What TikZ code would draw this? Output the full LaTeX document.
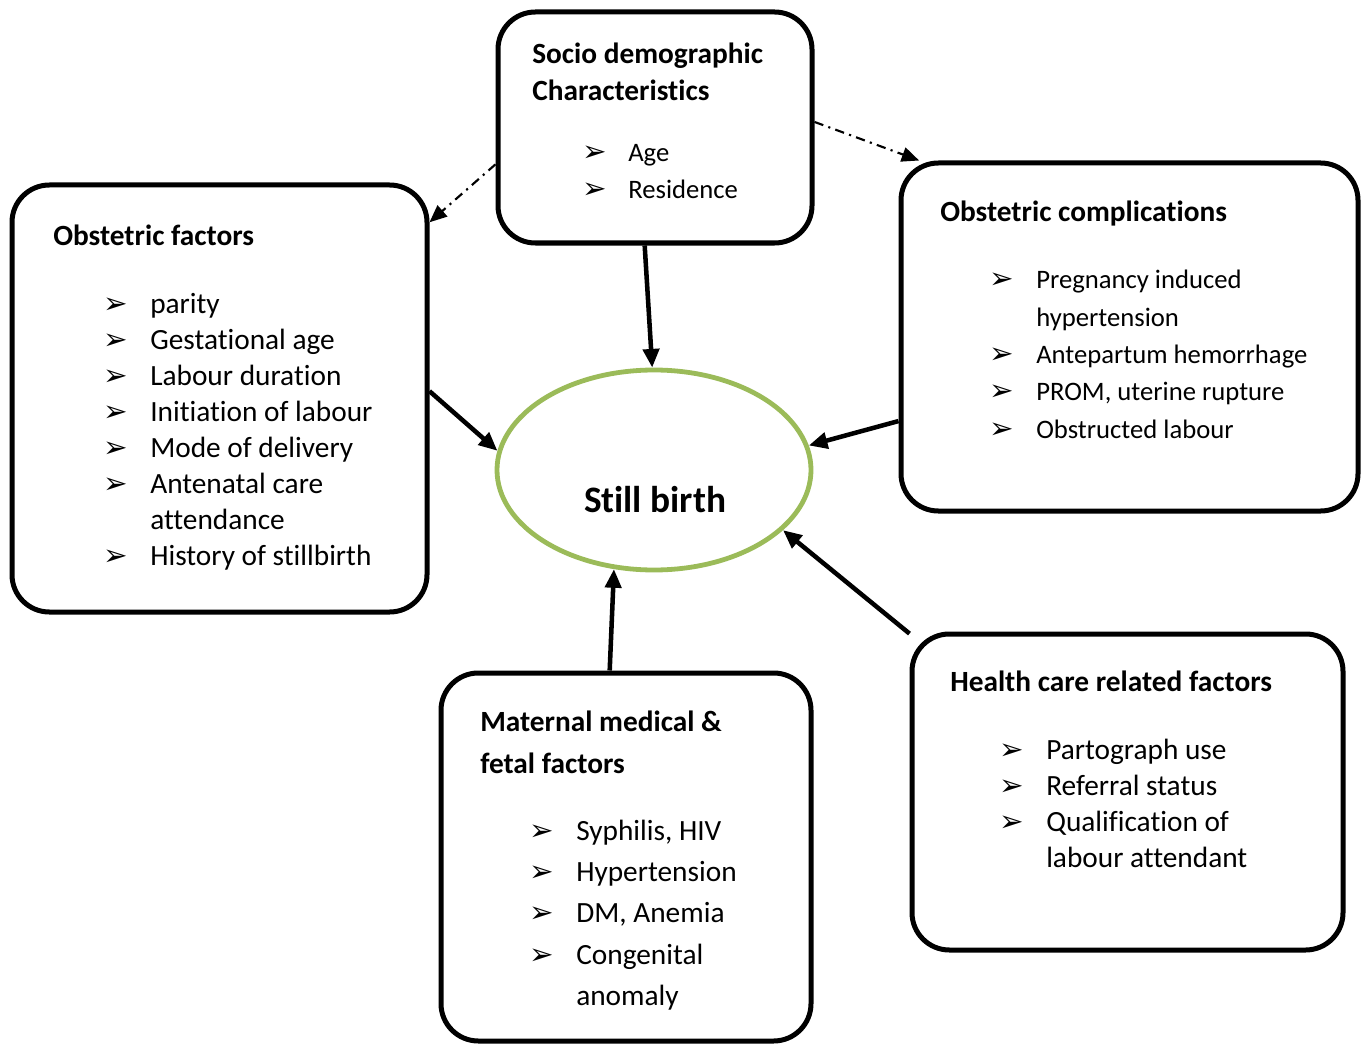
\documentclass[tikz,border=0pt]{standalone}
\usepackage{fontspec}
\setmainfont{Carlito}[RawFeature={-liga,-clig,-calt,-ccmp,-rlig,-dlig}]
\newfontfamily\arrowfont{DejaVu Sans}
\usetikzlibrary{arrows.meta}
\usetikzlibrary{shapes.geometric}
\definecolor{birthgreen}{RGB}{155,187,89}
\newcommand{\pix}{*0.75pt}
\newcommand{\titlesize}{\fontsize{22}{26}\selectfont\bfseries}
\newcommand{\itemsize}{\fontsize{22}{26}\selectfont}
\newcommand{\smallsize}{\fontsize{20}{24}\selectfont}
\newcommand{\bul}{{\arrowfont\fontsize{22}{22}\selectfont ➢}}

\begin{document}
\begin{tikzpicture}[x=0.75pt,y=-0.75pt]
\tikzstyle{factorbox}=[draw, line width=3.75pt, rounded corners=28pt, inner sep=0pt]
\tikzstyle{outcome}=[ellipse, draw=birthgreen, line width=3.6pt, inner sep=0pt,
  minimum width=314\pix, minimum height=200\pix]
\tikzstyle{title}=[anchor=base west, inner sep=0pt, font=\titlesize]
\tikzstyle{txt}=[anchor=base west, inner sep=0pt]
\tikzstyle{link}=[line width=3.4pt, -{Triangle[length=14pt,width=12pt]}]
\tikzstyle{weak}=[line width=1.6pt, dash pattern=on 7pt off 4pt on 1.6pt off 4pt,
  -{Triangle[length=13pt,width=11pt]}]
\useasboundingbox (0,0) rectangle (1364,1045);

% boxes
\node[factorbox, minimum width=314\pix, minimum height=231\pix] (soc) at (655,127.5) {};
\node[factorbox, minimum width=415\pix, minimum height=427\pix] (obst) at (219.5,398.5) {};
\node[factorbox, minimum width=457\pix, minimum height=348\pix] (compl) at (1129.5,337) {};
\node[factorbox, minimum width=431\pix, minimum height=316\pix] (health) at (1127.5,792) {};
\node[factorbox, minimum width=370\pix, minimum height=368\pix] (matern) at (626,857) {};
\node[outcome] (still) at (654,470) {};
\node[anchor=base, font=\fontsize{28}{32}\selectfont\bfseries] (stilltxt) at (655,512) {Still birth};

% socio demographic
\node[title] (soc-t1) at (532,64) {Socio demographic};
\node[title] (soc-t2) at (532,101) {Characteristics};
\foreach \t [count=\i] in {Age, Residence} {
  \node[txt] (soc-b\i) at (582,162+37*\i-37) {\bul};
  \node[txt, font=\smallsize] (soc-\i) at (628,162+37*\i-37) {\t};
}

% obstetric factors
\node[title] (obst-t) at (53,246) {Obstetric factors};
\foreach \t/\b [count=\i] in {parity/1, Gestational age/1, Labour duration/1,
    Initiation of labour/1, Mode of delivery/1, Antenatal care/1, attendance/0,
    History of stillbirth/1} {
  \ifnum\b=1 \node[txt] (obst-b\i) at (103,313+36*\i-36) {\bul}; \fi
  \node[txt, font=\itemsize] (obst-\i) at (150,313+36*\i-36) {\t};
}

% obstetric complications
\node[title] (compl-t) at (940,222) {Obstetric complications};
\foreach \t/\b/\y [count=\i] in {Pregnancy induced/1/288, hypertension/0/326,
    Antepartum hemorrhage/1/363, {PROM, uterine rupture}/1/400, Obstructed labour/1/438} {
  \ifnum\b=1 \node[txt] (compl-b\i) at (989,\y) {\bul}; \fi
  \node[txt, font=\smallsize] (compl-\i) at (1036,\y) {\t};
}

% health care
\node[title] (health-t) at (950,691) {Health care related factors};
\foreach \t/\b [count=\i] in {Partograph use/1, Referral status/1,
    Qualification of/1, labour attendant/0} {
  \ifnum\b=1 \node[txt] (health-b\i) at (999,759+36*\i-36) {\bul}; \fi
  \node[txt, font=\itemsize] (health-\i) at (1046,759+36*\i-36) {\t};
}

% maternal and fetal
\node[title] (matern-t1) at (480,731) {Maternal medical \&};
\node[title] (matern-t2) at (480,773) {fetal factors};
\foreach \t/\b/\y [count=\i] in {{Syphilis, HIV}/1/840, Hypertension/1/881,
    {DM, Anemia}/1/922, Congenital/1/964, anomaly/0/1005} {
  \ifnum\b=1 \node[txt] (matern-b\i) at (529,\y) {\bul}; \fi
  \node[txt, font=\itemsize] (matern-\i) at (576,\y) {\t};
}

% connectors
\draw[link] (soc.265.1) -- (still.91);
\draw[link] (obst.2.3) -- (still.173.4);
\draw[link] (compl.200.4) -- (still.9.6);
\draw[link] (matern.95) -- (still.248.1);
\draw[link] (health.144) -- (still.335.1);
\draw[weak] (soc.193.4) -- (obst.40.7);
\draw[weak] (soc.2.7) -- (compl.140);
\end{tikzpicture}
\end{document}
